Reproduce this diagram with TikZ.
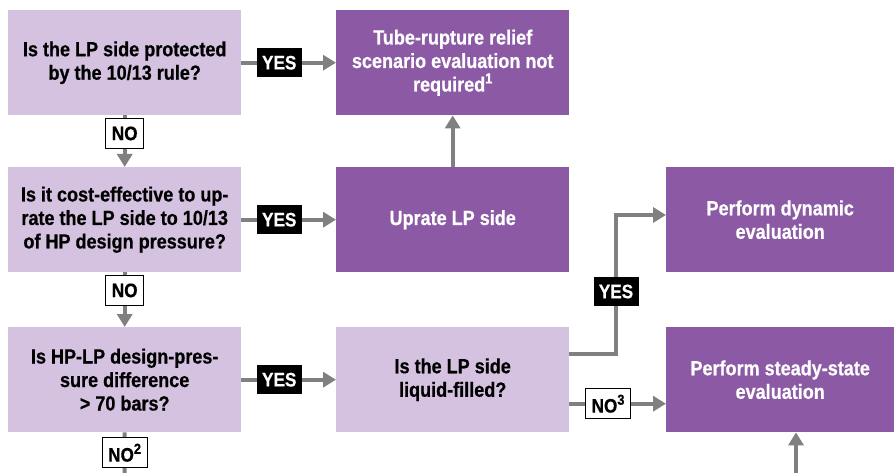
\documentclass[tikz,border=0pt]{standalone}
\usepackage{fontspec}
\setmainfont[FakeStretch=0.88,FakeBold=0.6]{Liberation Sans}
\usetikzlibrary{arrows.meta,calc}
\definecolor{lightp}{HTML}{D4C2E0}
\definecolor{darkp}{HTML}{8C5AA5}
\definecolor{arr}{HTML}{808080}
\newcommand{\supnum}[1]{\raisebox{0.4em}{\bfseries\fontsize{14.5}{14.5}\selectfont #1}}
\begin{document}
\begin{tikzpicture}[x=1pt,y=-1pt,
  box/.style={minimum width=233pt, minimum height=105pt, inner sep=0pt, align=center, anchor=north west,
    font=\bfseries\fontsize{20.5}{23.5}\selectfont},
  qbox/.style={box, fill=lightp, text=black},
  rbox/.style={box, fill=darkp, text=white},
  yeslab/.style={fill=black, text=white, inner sep=0pt, minimum width=45pt, minimum height=29pt,
    font=\bfseries\fontsize{19.5}{20}\selectfont},
  nolab/.style={fill=white, draw=black, line width=1pt, inner sep=0pt, minimum height=30pt, inner xsep=6pt,
    font=\bfseries\fontsize{19.5}{20}\selectfont},
  line/.style={draw=arr, line width=4pt},
  con/.style={line, -{Triangle[length=13pt,width=15pt]}}]
\useasboundingbox (0,0) rectangle (894,473);
\node[qbox] (A) at (8,10) {Is the LP side protected\\by the 10/13 rule?};
\node[rbox] (B) at (336,10) {Tube-rupture relief\\scenario evaluation not\\required\supnum{1}};
\node[qbox] (C) at (8,167) {Is it cost-effective to up-\\rate the LP side to 10/13\\of HP design pressure?};
\node[rbox] (D) at (336,167) {Uprate LP side};
\node[rbox, minimum width=228pt] (E) at (666,167) {Perform dynamic\\evaluation};
\node[qbox] (F) at (8,327) {Is HP-LP design-pres-\\sure difference\\> 70 bars?};
\node[qbox] (G) at (336,327) {Is the LP side\\liquid-filled?};
\node[rbox, minimum width=228pt] (H) at (666,327) {Perform steady-state\\evaluation};
\coordinate (fb) at (124.5,473);
\coordinate (hb) at (796,473);
\coordinate (bend) at (616,215);

\draw[con] (A) -- node[yeslab, pos=0.4] (y1) {YES} (B);
\draw[con] (A) -- node[nolab, pos=0.35] (n1) {NO} (C);
\draw[con] (C) -- node[yeslab, pos=0.4] (y2) {YES} (D);
\draw[con] (C) -- node[nolab, pos=0.33] (n2) {NO} (F);
\draw[con] (D) -- (B);
\draw[con] (F) -- node[yeslab, pos=0.4] (y3) {YES} (G);
\draw[line] (F.south) -- node[nolab, pos=0.5] (n3) {NO\supnum{2}} (fb);
\draw[con] ([yshift=26pt]G.east) -| (bend) -- (bend -| E.west);
\node[yeslab] (y4) at (616,291.5) {YES};
\draw[con] ([yshift=-24pt]G.east) -- node[nolab, pos=0.4] (n4) {NO\supnum{3}} ([yshift=-24pt]H.west);
\draw[con] (hb) -- (hb |- H.south);
\end{tikzpicture}
\end{document}
